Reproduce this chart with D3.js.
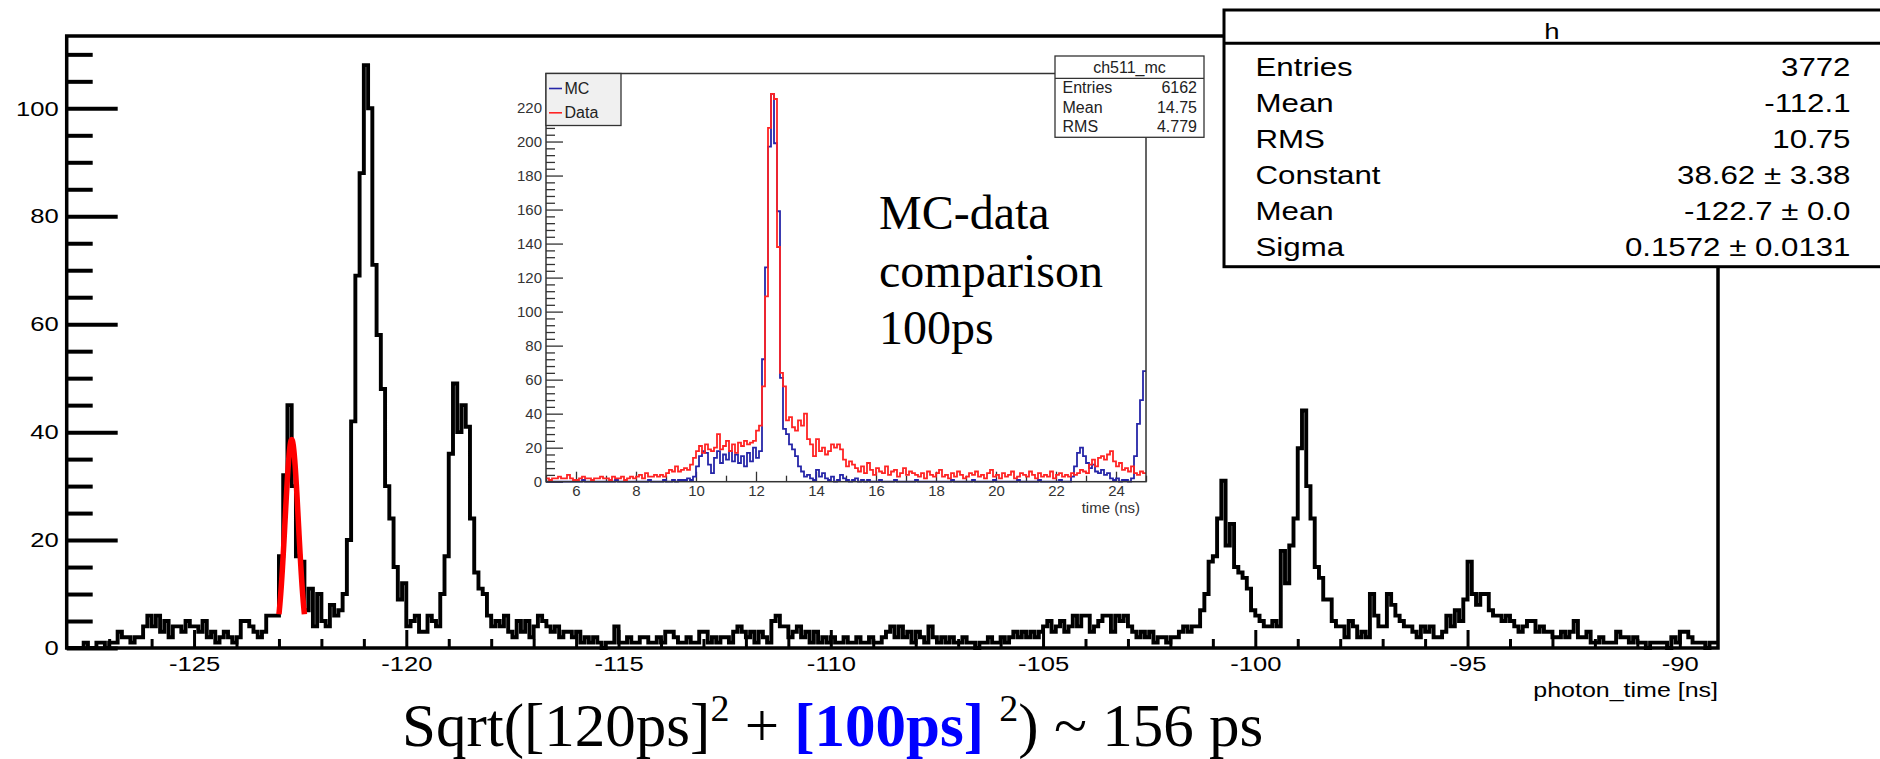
<!DOCTYPE html>
<html><head><meta charset="utf-8">
<script src="https://cdn.jsdelivr.net/npm/d3@7"></script>
<style>html,body{margin:0;padding:0;background:#fff;} svg{display:block;} text{white-space:pre;}</style>
</head><body>
<svg id="c" width="1880" height="759"></svg>
<script>
// ---------------- data ----------------
const mainRange = [-128, -89.1];
const mainBinWidth = 0.1;
const mainYMax = 113.4;
const mainCounts = [
0,0,0,0,1,0,0,1,1,0,
1,1,3,2,2,1,2,2,4,6,
4,6,3,5,2,4,4,3,5,4,
4,3,5,2,3,1,2,3,2,1,
2,5,5,4,3,2,3,6,6,6,
17,32,45,30,17,16,7,11,4,10,
5,4,8,6,7,10,20,42,69,88,
108,100,71,58,48,30,24,15,9,12,
4,5,6,3,3,6,5,4,10,17,
36,49,40,45,41,24,14,11,10,6,
4,5,4,6,3,2,5,3,5,2,
4,6,5,4,3,4,2,3,3,2,
3,1,2,1,2,1,0,1,1,4,
1,1,2,1,1,2,2,1,1,2,
1,3,3,2,1,1,2,1,1,3,
3,1,2,1,2,2,1,3,4,3,
2,3,1,3,2,1,5,6,4,4,
2,3,4,2,3,1,3,1,2,1,
2,1,1,2,1,1,2,1,1,2,
1,1,2,3,4,2,4,2,3,1,
3,2,1,4,2,1,2,1,2,1,
1,2,1,1,0,1,1,2,1,1,
2,1,2,3,2,3,2,3,2,3,
4,5,3,4,5,3,4,6,4,6,
6,3,4,5,6,6,3,6,5,6,
4,3,2,3,2,3,1,2,2,1,
2,2,3,4,3,4,4,7,10,16,
17,24,31,19,23,15,14,13,11,7,
6,5,4,4,5,4,18,12,19,24,
37,44,30,24,15,13,9,9,5,4,
4,2,5,4,2,3,2,10,6,4,
4,10,8,6,5,4,4,3,2,4,
3,4,2,2,3,6,4,7,5,9,
16,10,8,10,10,7,6,6,5,6,
5,4,3,4,5,5,3,4,3,3,
2,2,3,2,3,5,2,2,3,1,
1,2,1,1,1,3,2,2,1,2,
1,1,0,1,1,1,1,0,2,1,
3,3,2,1,1,1,0,1,1
];
const mainXMajor = [-125,-120,-115,-110,-105,-100,-95,-90];
const mainYMajor = [0,20,40,60,80,100];
const mainXTitle = "photon_time [ns]";
// Gaussian fit parameters (Constant, Mean, Sigma) and fit range
const fitParams = [38.62, -122.7, 0.1572];
const fitRange = [-123.0, -122.4];

const statsTitle = "h";
const statsLabels = ["Entries","Mean","RMS","Constant","Mean","Sigma"];
const statsValues = ["3772","-112.1","10.75","38.62 \u00B1 3.38","-122.7 \u00B1 0.0","0.1572 \u00B1 0.0131"];

// inset
const insetRange = [5, 25];
const insetYMax = 240;
const insetBinWidth = 0.1;
const insetData = [
2,1,2,2,3,2,2,4,2,1,
1,2,3,2,2,1,2,2,3,2,
2,1,3,2,2,3,1,2,3,2,
3,4,2,5,3,3,4,3,4,3,
5,7,6,9,6,7,8,7,10,14,
18,21,17,22,19,18,20,28,19,21,
24,18,22,17,23,21,24,22,23,24,
30,33,56,109,208,228,225,138,64,56,
36,38,32,30,36,33,40,25,22,15,
25,18,20,16,18,22,20,22,19,13,
9,12,10,8,6,9,5,11,7,4,
8,6,5,9,4,6,7,3,5,8,
4,6,5,4,3,5,2,6,4,3,
5,7,3,4,2,5,3,6,4,2,
3,5,4,6,3,4,2,5,7,3,
4,2,5,3,4,6,2,3,5,4,
3,6,4,2,5,3,4,3,6,2,
4,5,3,4,3,5,4,5,7,6,
5,10,13,9,14,15,13,16,18,12,
9,11,7,8,6,9,5,4,6,5
];
const insetMC = [
0,0,0,0,0,0,0,0,0,0,
0,0,1,0,0,0,0,0,0,0,
0,0,0,1,0,0,0,0,0,0,
0,0,0,0,1,0,0,0,0,1,
0,0,1,0,1,1,1,2,1,3,
9,15,18,17,10,5,14,18,11,16,
13,18,12,16,11,15,9,17,12,20,
14,18,72,126,197,228,199,159,61,31,
28,22,19,15,9,6,3,4,2,1,
7,3,5,2,1,3,0,1,4,2,
1,0,1,2,0,1,0,1,0,0,
0,1,0,0,0,0,1,0,0,0,
0,0,0,1,0,0,0,0,0,0,
0,0,0,0,0,1,0,0,0,0,
0,0,1,0,0,0,0,0,0,1,
0,0,0,0,0,0,0,1,0,0,
0,0,0,0,1,0,0,0,0,0,
0,1,0,0,0,3,9,17,20,15,
11,8,10,6,5,7,4,5,2,1,
2,0,1,1,0,2,15,34,48,65
];
const insetXMajor = [6,8,10,12,14,16,18,20,22,24];
const insetYMajor = [0,20,40,60,80,100,120,140,160,180,200,220];
const insetXTitle = "time (ns)";
const insetLegend = ["MC","Data"];
const insetStatsTitle = "ch511_mc";
const insetStatsLabels = ["Entries","Mean","RMS"];
const insetStatsValues = ["6162","14.75","4.779"];
const insetNote = ["MC-data","comparison","100ps"];

// ---------------- drawing ----------------
const SANS = "'Liberation Sans', Arial, Helvetica, sans-serif";
const SERIF = "'Liberation Serif', 'Times New Roman', serif";
const svg = d3.select("#c");
svg.append("rect").attr("width",1880).attr("height",759).attr("fill","#fff");
const fmtHyphen = d => String(d); // ASCII hyphen-minus like the original

function txt(parent, x, y, s, o) {
  const t = parent.append("text")
    .attr("transform", `translate(${x},${y}) scale(${o.sx || 1},1)`)
    .attr("text-anchor", o.anchor || "start")
    .attr("font-family", o.family || SANS)
    .attr("font-size", o.size)
    .attr("fill", o.fill || "#000")
    .text(s);
  if (o.weight) t.attr("font-weight", o.weight);
  return t;
}
function stepPoints(counts, lo, w) {
  const pts = [];
  counts.forEach((v, i) => { pts.push([lo + i * w, v]); pts.push([lo + (i + 1) * w, v]); });
  return pts;
}

// ---- main plot ----
const L = 66.7, R = 1718, T = 36, B = 648;
const x = d3.scaleLinear().domain(mainRange).range([L, R]);
const y = d3.scaleLinear().domain([0, mainYMax]).range([B, T]);
const SX = 1.22; // horizontal stretch of ROOT canvas text

const main = svg.append("g");
const yMajAx = main.append("g").attr("transform", `translate(${L},0)`)
  .call(d3.axisLeft(y).tickValues(mainYMajor).tickSize(-51).tickPadding(8).tickFormat(fmtHyphen));
const yMinVals = d3.range(0, 111, 5).filter(v => v % 20 !== 0);
const yMinAx = main.append("g").attr("transform", `translate(${L},0)`)
  .call(d3.axisLeft(y).tickValues(yMinVals).tickSize(-26).tickFormat(""));
const xMajAx = main.append("g").attr("transform", `translate(0,${B})`)
  .call(d3.axisBottom(x).tickValues(mainXMajor).tickSize(-18).tickPadding(8).tickFormat(fmtHyphen));
const xMinVals = d3.range(-127, -89.5, 1).filter(v => v % 5 !== 0);
const xMinAx = main.append("g").attr("transform", `translate(0,${B})`)
  .call(d3.axisBottom(x).tickValues(xMinVals).tickSize(-9).tickFormat(""));
[yMajAx, yMinAx].forEach(a => { a.select(".domain").remove(); a.selectAll("line").attr("stroke","#000").attr("stroke-width",4); });
[xMajAx, xMinAx].forEach(a => { a.select(".domain").remove(); a.selectAll("line").attr("stroke","#000").attr("stroke-width",3); });
[yMajAx, xMajAx].forEach(a => a.selectAll("text").attr("font-family", SANS).attr("font-size", 21).attr("fill","#000"));
yMajAx.selectAll("text").attr("transform", `scale(${SX},1)`).attr("x", -8/SX);
xMajAx.selectAll("text").attr("transform", `scale(${SX},1)`);

// histogram
const lineGen = d3.line().x(d => x(d[0])).y(d => y(d[1])).curve(d3.curveLinear);
main.append("path")
  .attr("d", lineGen(stepPoints(mainCounts, mainRange[0], mainBinWidth)))
  .attr("fill","none").attr("stroke","#000").attr("stroke-width",3.9).attr("stroke-linejoin","miter");

// fit curve
const [C, MU, SIG] = fitParams;
const fitPts = d3.range(0, 101).map(k => {
  const xv = fitRange[0] + (fitRange[1] - fitRange[0]) * k / 100;
  return [xv, C * Math.exp(-0.5 * ((xv - MU) / SIG) ** 2)];
});
main.append("path").attr("d", lineGen(fitPts))
  .attr("fill","none").attr("stroke","#ff0000").attr("stroke-width",5.5).attr("stroke-linejoin","round");

// frame
main.append("rect").attr("x", L).attr("y", T).attr("width", R - L).attr("height", B - T)
  .attr("fill","none").attr("stroke","#000").attr("stroke-width",3.5);

txt(main, R, 697, mainXTitle, {size: 20, anchor: "end", sx: 1.25});

// ---- inset ----
const IL = 546, IR = 1146, IT = 73.5, IB = 481.7;
const ix = d3.scaleLinear().domain(insetRange).range([IL, IR]);
const iy = d3.scaleLinear().domain([0, insetYMax]).range([IB, IT]);
const inset = svg.append("g");
const GRAY = "#333";
const iyMaj = inset.append("g").attr("transform", `translate(${IL},0)`)
  .call(d3.axisLeft(iy).tickValues(insetYMajor).tickSize(-17).tickPadding(4).tickFormat(fmtHyphen));
const iyMin = inset.append("g").attr("transform", `translate(${IL},0)`)
  .call(d3.axisLeft(iy).tickValues(d3.range(0, 241, 4).filter(v => v % 20 !== 0)).tickSize(-9).tickFormat(""));
const ixMaj = inset.append("g").attr("transform", `translate(0,${IB})`)
  .call(d3.axisBottom(ix).tickValues(insetXMajor).tickSize(-10).tickPadding(4).tickFormat(fmtHyphen));
const ixMin = inset.append("g").attr("transform", `translate(0,${IB})`)
  .call(d3.axisBottom(ix).tickValues(d3.range(5, 25.5, 1).filter(v => v % 2 !== 0)).tickSize(-6).tickFormat(""));
[iyMaj, iyMin, ixMaj, ixMin].forEach(a => {
  a.select(".domain").remove();
  a.selectAll("line").attr("stroke", GRAY).attr("stroke-width", 1.3);
  a.selectAll("text").attr("font-family", SANS).attr("font-size", 15).attr("fill", GRAY);
});
const iline = d3.line().x(d => ix(d[0])).y(d => iy(d[1]));
inset.append("path").attr("d", iline(stepPoints(insetMC, insetRange[0], insetBinWidth)))
  .attr("fill","none").attr("stroke","#2626a8").attr("stroke-width",1.8);
inset.append("path").attr("d", iline(stepPoints(insetData, insetRange[0], insetBinWidth)))
  .attr("fill","none").attr("stroke","#ff2424").attr("stroke-width",1.8);
inset.append("rect").attr("x", IL).attr("y", IT).attr("width", IR - IL).attr("height", IB - IT)
  .attr("fill","none").attr("stroke", GRAY).attr("stroke-width", 1.5);
txt(inset, 1140, 513, insetXTitle, {size: 15, anchor: "end", fill: GRAY});

// legend
const lg = inset.append("g");
lg.append("rect").attr("x", IL).attr("y", IT).attr("width", 75).attr("height", 52)
  .attr("fill","#f0f0f0").attr("stroke", GRAY).attr("stroke-width", 1.3);
const legColors = ["#2626a8", "#ff2424"];
insetLegend.forEach((s, k) => {
  const yy = 88.5 + k * 24.3;
  lg.append("line").attr("x1", 549).attr("x2", 562).attr("y1", yy).attr("y2", yy)
    .attr("stroke", legColors[k]).attr("stroke-width", 1.6);
  txt(lg, 564.5, yy + 5.5, s, {size: 16, fill: "#222"});
});

// inset stats box
const isb = inset.append("g");
isb.append("rect").attr("x", 1055).attr("y", 56).attr("width", 149).attr("height", 81.3)
  .attr("fill","#fff").attr("stroke", GRAY).attr("stroke-width", 1.3);
isb.append("line").attr("x1", 1055).attr("x2", 1204).attr("y1", 78.3).attr("y2", 78.3)
  .attr("stroke", GRAY).attr("stroke-width", 1.2);
txt(isb, 1129.5, 72.5, insetStatsTitle, {size: 16, anchor: "middle", fill: "#222"});
insetStatsLabels.forEach((s, k) => {
  const yy = 93 + k * 19.7;
  txt(isb, 1062.5, yy, s, {size: 16, fill: "#222"});
  txt(isb, 1197, yy, insetStatsValues[k], {size: 16, anchor: "end", fill: "#222"});
});

// inset annotation (Times)
insetNote.forEach((s, k) => {
  txt(svg, 879, 229 + k * 57.5, s, {size: 48, family: SERIF});
});

// ---- main stats box ----
const sb = svg.append("g");
sb.append("rect").attr("x", 1224).attr("y", 10).attr("width", 1880 - 1224 + 5).attr("height", 256.7)
  .attr("fill","#fff").attr("stroke","#000").attr("stroke-width",3);
sb.append("line").attr("x1", 1224).attr("x2", 1880).attr("y1", 43.3).attr("y2", 43.3)
  .attr("stroke","#000").attr("stroke-width",3);
txt(sb, 1552, 38.5, statsTitle, {size: 22, anchor: "middle", sx: 1.25});
statsLabels.forEach((s, k) => {
  const yy = 75.5 + k * 36;
  txt(sb, 1255.5, yy, s, {size: 25, sx: 1.25});
  txt(sb, 1850.5, yy, statsValues[k], {size: 25, anchor: "end", sx: 1.25});
});

// ---- bottom formula ----
const f = svg.append("text").attr("x", 402).attr("y", 746)
  .attr("font-family", SERIF).attr("font-size", 61).attr("fill", "#000");
f.append("tspan").text("Sqrt([120ps]");
f.append("tspan").attr("font-size", 38).attr("dy", -25).text("2");
f.append("tspan").attr("dy", 25).text(" + ");
f.append("tspan").attr("font-weight","bold").attr("fill","#0000ff").text("[100ps]");
f.append("tspan").text(" ");
f.append("tspan").attr("font-size", 38).attr("dy", -25).text("2");
f.append("tspan").attr("dy", 25).text(") ~ 156 ps");
</script>
</body></html>
